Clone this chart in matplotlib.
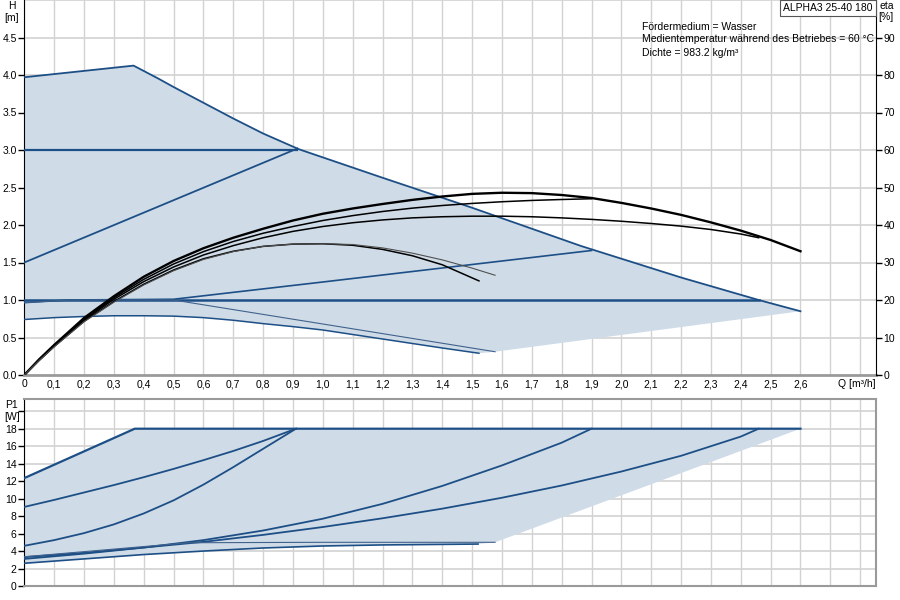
import matplotlib
matplotlib.use("Agg")
import matplotlib.pyplot as plt
import numpy as np

plt.rcParams['font.family'] = ['Liberation Sans', 'DejaVu Sans']

# ---------------- data ----------------
# Head curves H [m] vs Q [m3/h]
q_hmax = [0, 0.366, 0.45, 0.5, 0.6, 0.7, 0.8, 0.92, 1.2, 1.5, 1.865, 2.2, 2.46, 2.6]
h_hmax = [3.97, 4.125, 3.95, 3.84, 3.63, 3.42, 3.22, 3.01, 2.63, 2.23, 1.72, 1.30, 1.0, 0.85]

q_cp3 = [0, 0.915]
h_cp3 = [3.0, 3.0]
q_pp3 = [0, 0.915]
h_pp3 = [1.5, 3.02]
q_cp1 = [0, 2.46]
h_cp1 = [1.0, 1.0]
q_pp1 = [0, 0.15, 0.5, 1.0, 1.9]
h_pp1 = [0.965, 1.0, 1.01, 1.24, 1.66]
q_hthin = [0, 0.15, 0.5, 1.0, 1.577]
h_hthin = [0.965, 1.0, 1.0, 0.68, 0.31]
q_hlow = [0, 0.1, 0.2, 0.3, 0.4, 0.5, 0.6, 0.7, 0.8, 0.9, 1.0, 1.1, 1.2, 1.3, 1.4, 1.523]
h_hlow = [0.74, 0.765, 0.78, 0.79, 0.79, 0.785, 0.765, 0.73, 0.685, 0.645, 0.60, 0.54, 0.48, 0.42, 0.36, 0.29]
q_h_shade_end = [1.577]
h_h_shade_end = [0.31]

# Efficiency curves eta [%]
q_eta_a = [0, 0.05, 0.1, 0.2, 0.3, 0.4, 0.5, 0.6, 0.7, 0.8, 0.9, 1.0, 1.1, 1.2, 1.3, 1.4,
           1.5, 1.6, 1.7, 1.8, 1.9, 2.0, 2.1, 2.2, 2.3, 2.4, 2.5, 2.6]
eta_a = [0, 4.2, 8.0, 15.2, 21.0, 26.2, 30.4, 33.8, 36.6, 39.0, 41.2, 43.0, 44.4, 45.6, 46.7, 47.6,
         48.3, 48.6, 48.5, 48.0, 47.2, 45.9, 44.4, 42.7, 40.7, 38.5, 36.0, 33.0]
q_eta_b = [0, 0.05, 0.1, 0.2, 0.3, 0.4, 0.5, 0.6, 0.7, 0.8, 0.9, 1.0, 1.1, 1.2, 1.3, 1.4,
           1.5, 1.6, 1.7, 1.8, 1.9]
eta_b = [0, 4.1, 7.9, 14.9, 20.6, 25.5, 29.6, 32.9, 35.6, 37.8, 39.6, 41.2, 42.5, 43.6, 44.5, 45.2,
         45.75, 46.2, 46.55, 46.8, 47.0]
q_eta_c = [0, 0.05, 0.1, 0.2, 0.3, 0.4, 0.5, 0.6, 0.7, 0.8, 0.9, 1.0, 1.1, 1.2, 1.3, 1.4,
           1.5, 1.6, 1.7, 1.8, 1.9, 2.0, 2.1, 2.2, 2.3, 2.4, 2.46]
eta_c = [0, 4.0, 7.7, 14.6, 20.2, 24.9, 28.8, 32.0, 34.5, 36.6, 38.3, 39.6, 40.6, 41.35, 41.9, 42.2,
         42.35, 42.35, 42.2, 41.9, 41.5, 41.0, 40.4, 39.7, 38.8, 37.6, 36.6]
q_eta_d = [0, 0.05, 0.1, 0.2, 0.3, 0.4, 0.5, 0.6, 0.7, 0.8, 0.9, 1.0, 1.1, 1.2, 1.3, 1.4, 1.523]
eta_d = [0, 3.9, 7.6, 14.3, 19.6, 24.2, 28.0, 31.0, 33.0, 34.3, 34.9, 35.0, 34.6, 33.5, 31.8, 29.4, 25.1]
q_eta_e = [0, 0.05, 0.1, 0.2, 0.3, 0.4, 0.5, 0.6, 0.7, 0.8, 0.9, 1.0, 1.1, 1.2, 1.3, 1.4, 1.5, 1.577]
eta_e = [0, 3.9, 7.5, 14.2, 19.4, 24.0, 27.8, 30.8, 32.9, 34.3, 34.9, 35.0, 34.8, 33.9, 32.5, 30.7, 28.5, 26.6]

# Power curves P1 [W]
q_pmax = [0, 0.37, 2.6]
p_pmax = [12.35, 18.0, 18.0]
q_p_pp3 = [0, 0.1, 0.2, 0.3, 0.4, 0.5, 0.6, 0.7, 0.8, 0.91]
p_p_pp3 = [9.05, 9.85, 10.7, 11.55, 12.45, 13.4, 14.4, 15.45, 16.6, 18.0]
q_p_cp3 = [0, 0.1, 0.2, 0.3, 0.4, 0.5, 0.6, 0.7, 0.8, 0.91]
p_p_cp3 = [4.6, 5.25, 6.05, 7.05, 8.3, 9.8, 11.6, 13.6, 15.7, 18.0]
q_p_a = [0, 0.2, 0.4, 0.6, 0.8, 1.0, 1.2, 1.4, 1.6, 1.8, 1.9]
p_p_a = [3.1, 3.7, 4.4, 5.25, 6.35, 7.7, 9.4, 11.45, 13.8, 16.4, 18.0]
q_p_b = [0, 0.2, 0.4, 0.6, 0.8, 1.0, 1.2, 1.4, 1.6, 1.8, 2.0, 2.2, 2.4, 2.46]
p_p_b = [3.3, 3.8, 4.4, 5.05, 5.85, 6.75, 7.75, 8.85, 10.1, 11.5, 13.1, 14.9, 17.1, 18.0]
q_p_thin = [0, 0.55, 1.0, 1.577]
p_p_thin = [3.35, 4.95, 5.0, 5.0]
q_p_low = [0, 0.2, 0.4, 0.6, 0.8, 1.0, 1.2, 1.52]
p_p_low = [2.6, 3.1, 3.6, 4.0, 4.35, 4.58, 4.7, 4.8]

# axis ticks / labels
q_ticks = [0, 0.1, 0.2, 0.3, 0.4, 0.5, 0.6, 0.7, 0.8, 0.9, 1.0, 1.1, 1.2, 1.3,
           1.4, 1.5, 1.6, 1.7, 1.8, 1.9, 2.0, 2.1, 2.2, 2.3, 2.4, 2.5, 2.6]
q_ticklabels = ["0", "0,1", "0,2", "0,3", "0,4", "0,5", "0,6", "0,7", "0,8", "0,9",
                "1,0", "1,1", "1,2", "1,3", "1,4", "1,5", "1,6", "1,7", "1,8", "1,9",
                "2,0", "2,1", "2,2", "2,3", "2,4", "2,5", "2,6"]
q_grid = q_ticks + [2.7, 2.8]
h_ticks = [0, 0.5, 1.0, 1.5, 2.0, 2.5, 3.0, 3.5, 4.0, 4.5]
h_ticklabels = ["0.0", "0.5", "1.0", "1.5", "2.0", "2.5", "3.0", "3.5", "4.0", "4.5"]
eta_ticks = [0, 10, 20, 30, 40, 50, 60, 70, 80, 90]
p_ticks = [0, 2, 4, 6, 8, 10, 12, 14, 16, 18, 20]
p_ticklabels = ["0", "2", "4", "6", "8", "10", "12", "14", "16", "18", ""]

info_lines = ["Fördermedium = Wasser",
              "Medientemperatur während des Betriebes = 60 °C",
              "Dichte = 983.2 kg/m³"]
title_text = "ALPHA3 25-40 180"

# ---------------- styling ----------------
BLUE = "#1d4f86"
FILL = "#cfdce8"
GRID = "#d2d2d2"
FS = 7.5

fig = plt.figure(figsize=(9, 6), dpi=100)
L, R = 24.3 / 900, 876 / 900

# ---------------- top chart ----------------
ax = fig.add_axes([L, 1 - 375 / 600, R - L, 375 / 600])
ax.set_xlim(0, 2.853)
ax.set_ylim(0, 5)

poly_q = list(q_hmax) + q_h_shade_end + q_hlow[::-1]
poly_h = list(h_hmax) + h_h_shade_end + h_hlow[::-1]
ax.fill(poly_q, poly_h, color=FILL, lw=0, zorder=1)

for gx in q_grid:
    ax.axvline(gx, color=GRID, lw=1, zorder=0.5)
for gy in h_ticks[1:] + [5.0]:
    ax.axhline(gy, color=GRID, lw=1.2, zorder=0.5)

ax.plot(q_hmax, h_hmax, color=BLUE, lw=1.3, zorder=3)
ax.plot(q_cp3, h_cp3, color=BLUE, lw=1.6, zorder=3)
ax.plot(q_pp3, h_pp3, color=BLUE, lw=1.3, zorder=3)
ax.plot(q_cp1, h_cp1, color=BLUE, lw=1.8, zorder=3)
ax.plot(q_pp1, h_pp1, color=BLUE, lw=1.2, zorder=3)
ax.plot(q_hthin, h_hthin, color="#41628c", lw=0.8, zorder=3)
ax.plot(q_hlow, h_hlow, color=BLUE, lw=1.1, zorder=3)

ax.set_xticks(q_ticks)
ax.set_xticklabels(q_ticklabels)
ax.set_yticks(h_ticks)
ax.set_yticklabels(h_ticklabels)
ax.tick_params(axis='x', length=0, pad=3, labelsize=FS)
ax.tick_params(axis='y', length=4, width=1, pad=1.5, labelsize=FS, direction='out')
ax.spines['top'].set_visible(False)
ax.spines['left'].set_color('black')
ax.spines['right'].set_visible(False)
ax.spines['bottom'].set_color('#9a9a9a')
ax.spines['bottom'].set_linewidth(2)

ax2 = ax.twinx()
ax2.set_ylim(0, 100)
ax2.set_xlim(0, 2.853)
ax2.plot(q_eta_a, eta_a, color='black', lw=1.7, zorder=4)
ax2.plot(q_eta_b, eta_b, color='black', lw=1.1, zorder=4)
ax2.plot(q_eta_c, eta_c, color='black', lw=1.1, zorder=4)
ax2.plot(q_eta_d, eta_d, color='black', lw=1.1, zorder=4)
ax2.plot(q_eta_e, eta_e, color='#505050', lw=0.8, zorder=4)
ax2.set_yticks(eta_ticks)
ax2.tick_params(axis='y', length=4, width=1, pad=1.5, labelsize=FS, direction='out')
ax2.spines['top'].set_visible(False)
ax2.spines['left'].set_visible(False)
ax2.spines['bottom'].set_visible(False)
ax2.spines['right'].set_color('black')

ax.text(2.79, -0.05, "Q [m³/h]", ha='center', va='top', fontsize=FS,
        transform=ax.transData, clip_on=False)

fig.text(12 / 900, 1 - 6 / 600, "H", ha='center', va='center', fontsize=FS)
fig.text(12 / 900, 1 - 18 / 600, "[m]", ha='center', va='center', fontsize=FS)
fig.text(879 / 900, 1 - 6 / 600, "eta", ha='left', va='center', fontsize=FS)
fig.text(878 / 900, 1 - 17 / 600, "[%]", ha='left', va='center', fontsize=FS)

for i, line in enumerate(info_lines):
    fig.text(641.5 / 900, 1 - (26.5 + 13 * i) / 600, line, ha='left', va='center',
             fontsize=FS)

fig.text(828 / 900, 1 - 8 / 600, title_text, ha='center', va='center', fontsize=FS,
         bbox=dict(boxstyle='square,pad=0.3', fc='white', ec='#555555', lw=0.8))

# ---------------- bottom chart ----------------
bx = fig.add_axes([L, 1 - 586 / 600, R - L, (586 - 399) / 600])
bx.set_xlim(0, 2.853)
bx.set_ylim(0, 21.4)

pq = list(q_pmax) + [q_p_thin[-1]] + q_p_low[::-1]
pp = list(p_pmax) + [p_p_thin[-1]] + p_p_low[::-1]
bx.fill(pq, pp, color=FILL, lw=0, zorder=1)

for gx in q_grid:
    bx.axvline(gx, color=GRID, lw=1, zorder=0.5)
for gy in p_ticks[1:]:
    bx.axhline(gy, color=GRID, lw=1.2, zorder=0.5)

bx.plot(q_pmax, p_pmax, color=BLUE, lw=1.6, zorder=3)
bx.plot(q_p_pp3, p_p_pp3, color=BLUE, lw=1.3, zorder=3)
bx.plot(q_p_cp3, p_p_cp3, color=BLUE, lw=1.3, zorder=3)
bx.plot(q_p_a, p_p_a, color=BLUE, lw=1.3, zorder=3)
bx.plot(q_p_b, p_p_b, color=BLUE, lw=1.3, zorder=3)
bx.plot(q_p_thin, p_p_thin, color="#41628c", lw=0.8, zorder=3)
bx.plot(q_p_low, p_p_low, color=BLUE, lw=1.2, zorder=3)

bx.set_xticks(q_ticks)
bx.set_xticklabels([])
bx.tick_params(axis='x', length=0)
bx.set_yticks(p_ticks)
bx.set_yticklabels(p_ticklabels)
bx.tick_params(axis='y', length=4, width=1, pad=1.5, labelsize=FS, direction='out')
for s in ['top', 'right', 'bottom']:
    bx.spines[s].set_color('#9a9a9a')
    bx.spines[s].set_linewidth(1.5)
bx.spines['left'].set_color('black')

fig.text(12 / 900, 1 - 405 / 600, "P1", ha='center', va='center', fontsize=FS)
fig.text(12 / 900, 1 - 417 / 600, "[W]", ha='center', va='center', fontsize=FS)

fig.savefig("out.png", dpi=100)
